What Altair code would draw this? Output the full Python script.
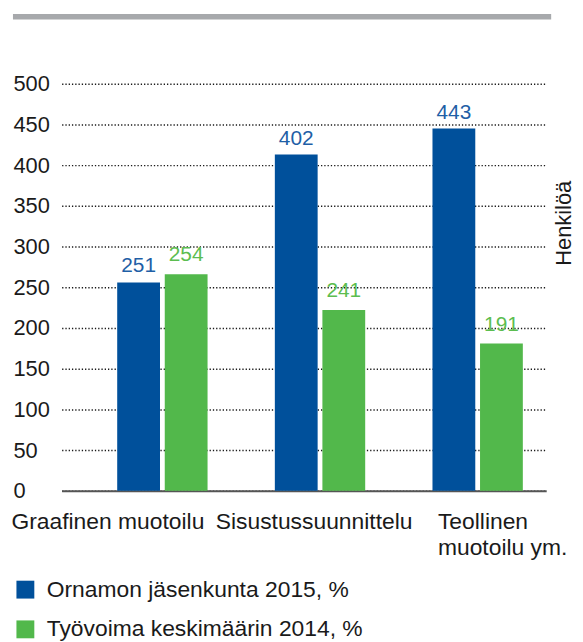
import altair as alt
import pandas as pd

# ---- data ----
categories = ["Graafinen muotoilu", "Sisustussuunnittelu", "Teollinen\nmuotoilu ym."]
series = ["Ornamon jäsenkunta 2015, %", "Työvoima keskimäärin 2014, %"]
# bar heights as drawn in the picture (read against the y axis)
ornamo_heights = [256, 413, 445]
tyovoima_heights = [266, 222, 181]
# value labels printed above the bars
ornamo_labels = ["251", "402", "443"]
tyovoima_labels = ["254", "241", "191"]
y_ticks = [0, 50, 100, 150, 200, 250, 300, 350, 400, 450, 500]

BLUE = "#00509b"
GREEN = "#52b84b"
BLUE_TXT = "#1f5fa6"
GREEN_TXT = "#5cbd50"
TXT = "#1a1a1a"

rows = []
for cat, h, lab in zip(categories, ornamo_heights, ornamo_labels):
    rows.append({"category": cat, "series": series[0], "height": h, "label": lab})
for cat, h, lab in zip(categories, tyovoima_heights, tyovoima_labels):
    rows.append({"category": cat, "series": series[1], "height": h, "label": lab})
df = pd.DataFrame(rows)

x_enc = alt.X(
    "category:N",
    sort=categories,
    scale=alt.Scale(paddingInner=0.4268, paddingOuter=0.2504, align=0.704),
    axis=alt.Axis(
        title=None,
        ticks=False,
        grid=False,
        domainColor="#555555",
        domainWidth=2,
        labelAngle=0,
        labelAlign="left",
        labelBaseline="top",
        labelPadding=20,
        labelFontSize=23,
        labelLineHeight=26,
        labelColor=TXT,
        labelOverlap=False,
        labelLimit=400,
        labelExpr="split(datum.label, '\\n')",
        labelOffset={
            "condition": [
                {"test": "datum.value === 'Graafinen muotoilu'", "value": -152},
                {"test": "datum.value === 'Sisustussuunnittelu'", "value": -105},
            ],
            "value": -40,
        },
    ),
)

y_enc = alt.Y(
    "height:Q",
    scale=alt.Scale(domain=[0, 500], nice=False, zero=True),
    axis=alt.Axis(
        values=y_ticks,
        title="Henkilöä",
        titleX=512,
        titleY=140,
        titleAngle=270,
        titleAlign="center",
        titleBaseline="alphabetic",
        titleFontSize=22,
        titleFontWeight="normal",
        titleColor=TXT,
        domain=False,
        ticks=False,
        tickSize=0,
        labelAlign="left",
        labelBaseline="middle",
        labelPadding=49,
        labelFontSize=22,
        labelColor=TXT,
        grid=True,
        gridColor="#1a1a1a",
        gridDash=[1.3, 2],
        gridWidth=1.5,
    ),
)

xoff = alt.XOffset("series:N", sort=series, scale=alt.Scale(paddingInner=0.1, paddingOuter=0))

bars = alt.Chart(df).mark_bar().encode(
    x=x_enc,
    xOffset=xoff,
    y=y_enc,
    color=alt.Color(
        "series:N",
        sort=series,
        scale=alt.Scale(domain=series, range=[BLUE, GREEN]),
        legend=alt.Legend(
            title=None,
            orient="none",
            legendX=-48,
            legendY=498,
            direction="vertical",
            symbolType="square",
            symbolSize=324,
            symbolStrokeWidth=0,
            symbolOpacity=1,
            labelFontSize=23,
            labelOffset=10,
            labelColor=TXT,
            labelLimit=500,
            rowPadding=16,
            padding=0,
        ),
    ),
)

lab_blue = alt.Chart(df).transform_filter(
    alt.datum.series == series[0]
).mark_text(baseline="bottom", dy=-6, fontSize=21, color=BLUE_TXT).encode(
    x=alt.X("category:N", sort=categories),
    xOffset=alt.XOffset("series:N", sort=series),
    y="height:Q",
    text="label:N",
)

lab_green = alt.Chart(df).transform_filter(
    alt.datum.series == series[1]
).mark_text(baseline="bottom", dy=-9, fontSize=21, color=GREEN_TXT).encode(
    x=alt.X("category:N", sort=categories),
    xOffset=alt.XOffset("series:N", sort=series),
    y="height:Q",
    text="label:N",
)

top_bar = alt.Chart(pd.DataFrame({"d": [0]})).mark_rule(
    color="#a7a9ac", strokeWidth=5.5, strokeCap="butt"
).encode(x=alt.value(-49), x2=alt.value(493), y=alt.value(-67.5))

chart = alt.layer(bars, lab_blue, lab_green, top_bar).properties(
    width=488,
    height=410,
    autosize=alt.AutoSizeParams(type="none"),
    padding={"left": 54, "top": 74, "right": 29, "bottom": 150},
).configure(
    font="Liberation Sans",
).configure_view(stroke=None)

chart.save("out.html", embed_options={"renderer": "svg", "actions": False})
